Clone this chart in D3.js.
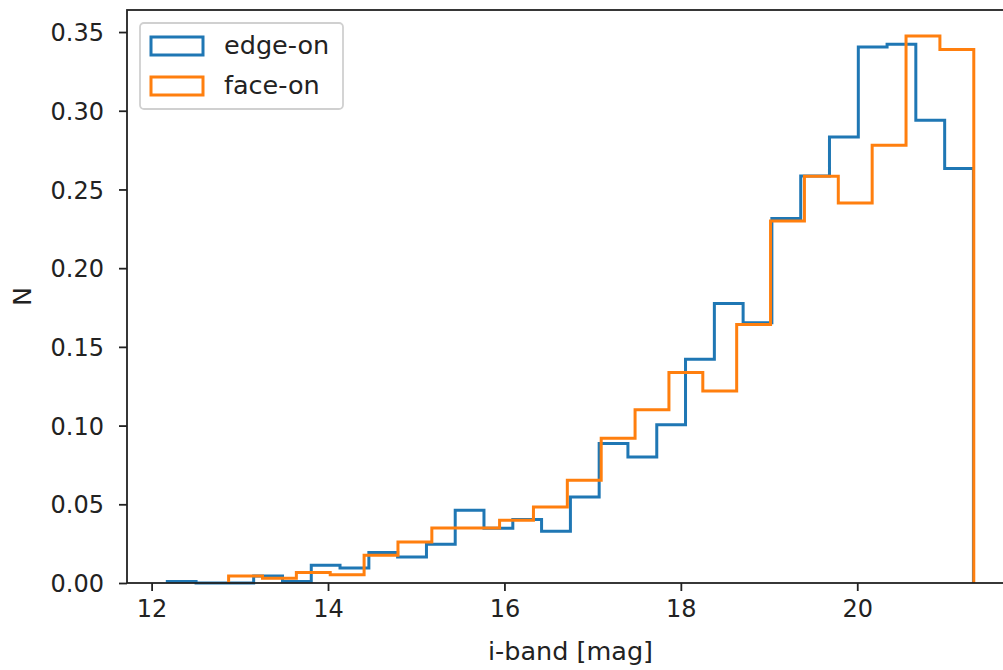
<!DOCTYPE html>
<html>
    <head>
        <script src="https://d3js.org/d3.v7.min.js"></script>
        <style>
            body { margin: 0; background: #fff; }
            text { font-family: "DejaVu Sans", sans-serif; fill: #222; }
        </style>
    </head>
    <body>
        <script>
            // bin edges and normalised counts
            const edgeOnEdges = [12.178, 12.504, 12.831, 13.157, 13.484, 13.810, 14.136, 14.463, 14.789, 15.116,
                                 15.442, 15.768, 16.095, 16.421, 16.748, 17.074, 17.400, 17.727, 18.053, 18.380,
                                 18.706, 19.032, 19.359, 19.685, 20.012, 20.338, 20.664, 20.991, 21.317];
            const edgeOnValues = [0.001, 0, 0, 0.0044, 0.001, 0.0112, 0.0095, 0.0193, 0.0165, 0.0246,
                                  0.0462, 0.0348, 0.0404, 0.0328, 0.0546, 0.0886, 0.080, 0.1006, 0.1422, 0.1775,
                                  0.1654, 0.2315, 0.2586, 0.2834, 0.3405, 0.3423, 0.294, 0.2633];

            const faceOnEdges = [12.873, 13.257, 13.641, 14.025, 14.409, 14.793, 15.177, 15.561, 15.945, 16.329,
                                 16.713, 17.097, 17.481, 17.865, 18.249, 18.633, 19.017, 19.401, 19.785, 20.169,
                                 20.553, 20.937, 21.321];
            const faceOnValues = [0.0045, 0.003, 0.0066, 0.0053, 0.0176, 0.026, 0.0349, 0.0349, 0.0398, 0.0483,
                                  0.0652, 0.0919, 0.110, 0.1337, 0.122, 0.1642, 0.230, 0.2584, 0.2414, 0.2781,
                                  0.3475, 0.3389];

            const seriesNames = ["edge-on", "face-on"];
            const seriesColors = ["#1f77b4", "#ff7f0e"];
            const xTicks = [12, 14, 16, 18, 20];
            const yTicks = [0, 0.05, 0.10, 0.15, 0.20, 0.25, 0.30, 0.35];

            var width = 1003;
            var height = 670;
            // plot box (right spine falls just outside the picture, like the reference)
            var plotLeft = 127, plotRight = 1014, plotTop = 10, plotBottom = 583;
            var tickFont = 24;
            var labelFont = 25.5;

            var svg = d3.select('body').append('svg')
                    .attr('width', width)
                    .attr('height', height);

            var x = d3.scaleLinear().domain([11.721, 21.777]).range([plotLeft, plotRight]);
            var y = d3.scaleLinear().domain([0, 0.364]).range([plotBottom, plotTop]);

            //turn edges + heights into an open step outline (matplotlib histtype='step')
            function stepPoints(edges, values) {
                let pts = [[edges[0], 0]];
                for (let i = 0; i < values.length; i++) {
                    pts.push([edges[i], values[i]]);
                    pts.push([edges[i + 1], values[i]]);
                }
                pts.push([edges[edges.length - 1], 0]);
                return pts;
            }

            var line = d3.line()
                    .x(function (d) { return x(d[0]); })
                    .y(function (d) { return y(d[1]); });

            var series = [
                stepPoints(edgeOnEdges, edgeOnValues),
                stepPoints(faceOnEdges, faceOnValues)
            ];

            svg.append('g').selectAll('path')
                    .data(series)
                    .enter()
                    .append('path')
                    .attr('d', line)
                    .attr('fill', 'none')
                    .attr('stroke', function (d, i) { return seriesColors[i]; })
                    .attr('stroke-width', 3);

            // axes
            var xAxis = svg.append('g')
                    .attr('transform', 'translate(0,' + plotBottom + ')')
                    .call(d3.axisBottom(x).tickValues(xTicks).tickFormat(d3.format('d'))
                        .tickSize(8).tickSizeOuter(0).tickPadding(9));
            var yAxis = svg.append('g')
                    .attr('transform', 'translate(' + plotLeft + ',0)')
                    .call(d3.axisLeft(y).tickValues(yTicks).tickFormat(d3.format('.2f'))
                        .tickSize(8).tickSizeOuter(0).tickPadding(15));

            [xAxis, yAxis].forEach(function (g) {
                g.select('.domain').remove();
                g.attr('font-size', null).attr('font-family', null);
                g.selectAll('line').attr('stroke', '#222').attr('stroke-width', 1.8);
                g.selectAll('text').style('font-size', tickFont + 'px').attr('fill', '#222');
            });
            yAxis.selectAll('text').attr('dy', '0.36em');

            // spines
            svg.append('rect')
                    .attr('x', plotLeft)
                    .attr('y', plotTop)
                    .attr('width', plotRight - plotLeft)
                    .attr('height', plotBottom - plotTop)
                    .attr('fill', 'none')
                    .attr('stroke', '#222')
                    .attr('stroke-width', 1.8);

            // axis labels
            svg.append('text')
                    .attr('x', (plotLeft + plotRight) / 2)
                    .attr('y', 660)
                    .attr('text-anchor', 'middle')
                    .style('font-size', labelFont + 'px')
                    .text('i-band [mag]');
            svg.append('text')
                    .attr('transform', 'translate(31,' + ((plotTop + plotBottom) / 2) + ') rotate(-90)')
                    .attr('text-anchor', 'middle')
                    .style('font-size', labelFont + 'px')
                    .text('N');

            // legend
            var legend = svg.append('g');
            legend.append('rect')
                    .attr('x', 140)
                    .attr('y', 23)
                    .attr('width', 203)
                    .attr('height', 86)
                    .attr('rx', 4)
                    .attr('fill', '#fff')
                    .attr('fill-opacity', 0.8)
                    .attr('stroke', '#d0d0d0')
                    .attr('stroke-width', 1.8);

            var items = legend.selectAll('g.item')
                    .data(seriesNames)
                    .enter()
                    .append('g')
                    .attr('class', 'item')
                    .attr('transform', function (d, i) { return 'translate(0,' + (i * 40) + ')'; });
            items.append('rect')
                    .attr('x', 151)
                    .attr('y', 37)
                    .attr('width', 52)
                    .attr('height', 18)
                    .attr('fill', 'none')
                    .attr('stroke', function (d, i) { return seriesColors[i]; })
                    .attr('stroke-width', 3);
            items.append('text')
                    .attr('x', 224)
                    .attr('y', 54)
                    .style('font-size', labelFont + 'px')
                    .text(function (d) { return d; });
        </script>
    </body>
</html>
